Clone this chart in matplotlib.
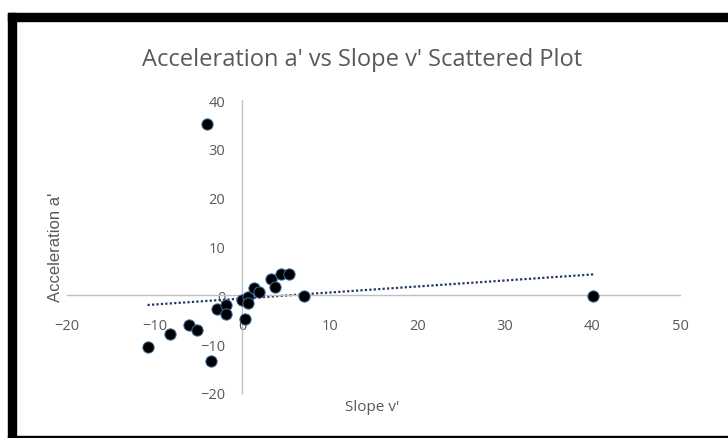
import numpy as np
import matplotlib
matplotlib.use("Agg")
from matplotlib import pyplot as plt
from matplotlib.patches import Rectangle

# values
slope_v = [-4.0, -10.8, -8.2, -6.1, -5.1, -3.5, -2.9, -1.9, -1.9, 0.0,
           0.7, 0.7, 0.3, 1.3, 1.9, 3.3, 3.8, 4.4, 5.35, 7.1, 40.1]
accel_a = [35.0, -10.6, -8.0, -6.0, -7.0, -13.4, -2.8, -1.9, -3.9, -0.95,
           -0.3, -1.5, -4.9, 1.4, 0.75, 3.25, 1.8, 4.3, 4.3, -0.1, -0.1]
x_ticks = [-20, -10, 0, 10, 20, 30, 40, 50]
y_ticks = [-20, -10, 0, 10, 20, 30, 40]

txt = '#595959'
axis_gray = '#BFBFBF'

fig = plt.figure(figsize=(7.28, 4.39), dpi=100)
W, H = 728, 439

# black frame around the chart (top, left, bottom)
fig.patches.append(Rectangle((8 / W, 1 - 22 / H), 1, 8 / H, transform=fig.transFigure,
                             color='black', zorder=0))
fig.patches.append(Rectangle((8 / W, 0), 8 / W, 1 - 14 / H, transform=fig.transFigure,
                             color='black', zorder=0))
fig.patches.append(Rectangle((8 / W, 0), 1, 2 / H, transform=fig.transFigure,
                             color='black', zorder=0))

ax = fig.add_axes([67 / W, 1 - 394 / H, 613 / W, 293 / H])
ax.set_xlim(-20, 50)
ax.set_ylim(-20, 40)

ax.scatter(slope_v, accel_a, s=66, color='black', edgecolors='#3A6EA5',
           linewidths=0.7, zorder=3)

# linear trendline
k, b = np.polyfit(slope_v, accel_a, 1)
xs = np.array([min(slope_v), max(slope_v)])
ax.plot(xs, k * xs + b, linestyle=(0, (1, 1)), color='#1F3864', lw=1.6, zorder=2)

for s in ['top', 'right']:
    ax.spines[s].set_visible(False)
ax.spines['left'].set_position(('data', 0))
ax.spines['bottom'].set_position(('data', 0))
for s in ['left', 'bottom']:
    ax.spines[s].set_color(axis_gray)
    ax.spines[s].set_linewidth(1.0)

ax.set_xticks(x_ticks)
ax.set_yticks(y_ticks)
ax.tick_params(axis='both', length=0, colors=txt, labelsize=10.5)
ax.tick_params(axis='x', pad=16)
ax.tick_params(axis='y', pad=12)
for lab in ax.get_xticklabels() + ax.get_yticklabels():
    lab.set_family('Open Sans')

fig.text(362 / W, 1 - 60 / H, "Acceleration a' vs Slope v' Scattered Plot",
         ha='center', va='center', fontsize=17, color=txt, family='Open Sans')
fig.text(55 / W, 1 - 247 / H, "Acceleration a'", rotation=90, ha='center',
         va='center', fontsize=12, color=txt, family='Liberation Sans')
fig.text(372 / W, 1 - 408 / H, "Slope v'", ha='center', va='center',
         fontsize=11, color=txt, family='Open Sans')

fig.savefig('out.png', dpi=100)
